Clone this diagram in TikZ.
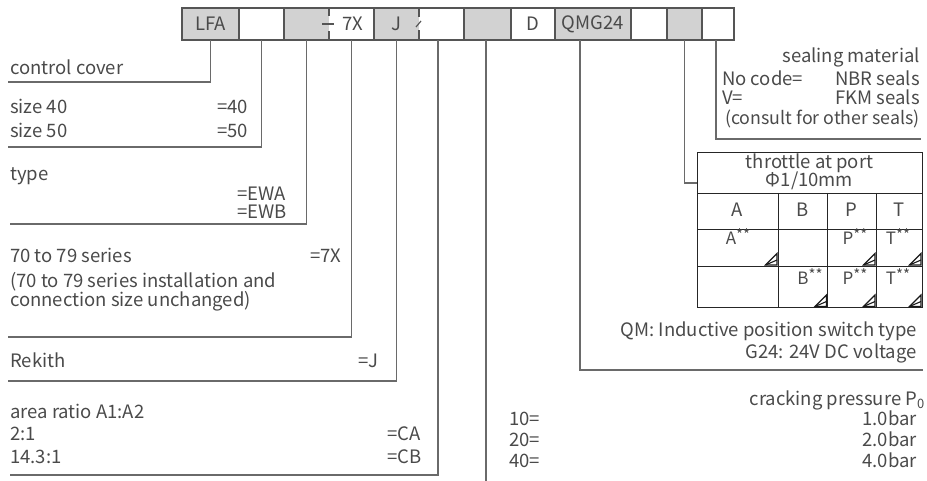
\documentclass[tikz,border=0pt]{standalone}
\usepackage{fontspec}
\setmainfont{Noto Sans CJK SC}
\usetikzlibrary{calc}
\definecolor{gbox}{HTML}{D2D2D2}
\definecolor{bline}{HTML}{555555}
\definecolor{cline}{HTML}{6A6A6A}
\definecolor{tc}{HTML}{4A4A4A}
\newcommand{\stars}{\raisebox{4pt}{\fontsize{15}{15}\selectfont **}}
\begin{document}
\begin{tikzpicture}[x=1pt,y=-1pt,
  txt/.style={font=\fontsize{18.5}{21}\selectfont, text=tc, inner sep=0pt},
  small/.style={font=\fontsize{17}{19}\selectfont, text=tc, inner sep=0pt},
  lw/.style={txt, anchor=base west},
  le/.style={txt, anchor=base east},
  lc/.style={txt, anchor=base},
  cellbox/.style={anchor=north west, minimum height=32pt, inner sep=0pt, outer sep=0pt, txt},
  boxline/.style={draw=bline, line width=1.2pt},
  conn/.style={draw=cline, line width=1.2pt},
  tabline/.style={draw=black!85, line width=0.9pt},
  thr/.style={draw=black!90, line width=1.1pt, line join=miter}
]
\useasboundingbox (0,0) rectangle (927,481);

% ---------- type code boxes ----------
\node[cellbox, fill=gbox,  minimum width=57pt] (b1)  at (182,8) {LFA};
\node[cellbox, fill=white, minimum width=45pt] (b2)  at (239,8) {};
\node[cellbox, fill=gbox,  minimum width=45pt] (b3)  at (284,8) {};
\node[cellbox, fill=white, minimum width=45pt] (b4)  at (329,8) {\hspace*{3pt}7X};
\node[cellbox, fill=gbox,  minimum width=45pt] (b5)  at (374,8) {J};
\node[cellbox, fill=white, minimum width=45pt] (b6)  at (419,8) {};
\node[cellbox, fill=gbox,  minimum width=47pt] (b7)  at (464,8) {};
\node[cellbox, fill=white, minimum width=44pt] (b8)  at (511,8) {D};
\node[cellbox, fill=gbox,  minimum width=76pt] (b9)  at (555,8) {QMG24};
\node[cellbox, fill=white, minimum width=36pt] (b10) at (631,8) {};
\node[cellbox, fill=gbox,  minimum width=35pt] (b11) at (667,8) {};
\node[cellbox, fill=white, minimum width=32pt] (b12) at (702,8) {};

\draw[boxline] (b1.north west) rectangle (b12.south east);
\foreach \n in {2,3,5,7,8,9,10,11,12}
  \draw[boxline] (b\n.north west) -- (b\n.south west);
% broken separators
\draw[boxline] (b4.north west) -- ++(0,8.5);
\draw[boxline] (b4.south west) -- ++(0,-8.5);
\draw[boxline] ($(b4.west)+(-7,0)$) -- ($(b4.west)+(5,0)$);
\draw[boxline] (b6.north west) -- ++(0,9);
\draw[boxline] (b6.south west) -- ++(0,-9.5);
\draw[boxline] ($(b6.west)+(-3,3)$) -- ($(b6.west)+(2,-3)$);

% ---------- connector end points ----------
\coordinate (s6) at (438,40);
\coordinate (s7) at (486,40);
\coordinate (s9) at (580,40);
\coordinate (s12) at (716,40);
\coordinate (e1) at (8,82);
\coordinate (e2) at (8,147);
\coordinate (e3) at (10,224);
\coordinate (e4) at (8,337);
\coordinate (e5) at (8,381);
\coordinate (e6) at (10,475);
\coordinate (e7) at (486,481);
\coordinate (e9) at (923,370);
\coordinate (e12) at (921,139);

\draw[conn] (b1.south) |- (e1);
\draw[conn] (b2.south) |- (e2);
\draw[conn] (b3.south) |- (e3);
\draw[conn] (b4.south) |- (e4);
\draw[conn] (b5.south) |- (e5);
\draw[conn] (s6) |- (e6);
\draw[conn] (s7) -- (e7);
\draw[conn] (s9) |- (e9);
\draw[conn] (s12) |- (e12);

% ---------- throttle table ----------
\node[anchor=north west, minimum width=225pt, minimum height=155pt, inner sep=0pt, outer sep=0pt] (tbl) at (697,152.5) {};
\draw[conn] (b11.south) |- (tbl.west |- 0,183);
\draw[tabline] (tbl.north west) rectangle (tbl.south east);
\draw[tabline] (697,193) -- (922,193);
\draw[tabline] (697,229.5) -- (922,229.5);
\draw[tabline] (697,266) -- (922,266);
\foreach \x in {778,827.5,876}
  \draw[tabline] (\x,193) -- (\x,307.5);

\node[lc] (th1) at (809.5,169) {throttle at port};
\node[lc] (th2) at (809.5,187) {Φ1/10mm};
\node[lc] (hA) at (737.5,217) {A};
\node[lc] (hB) at (802.75,217) {B};
\node[lc] (hP) at (851.75,217) {P};
\node[lc] (hT) at (899,217) {T};

\node[small, anchor=base] (r1a) at (738,245) {A\stars};
\node[small, anchor=base] (r1p) at (855,245) {P\stars};
\node[small, anchor=base] (r1t) at (898,245) {T\stars};
\node[small, anchor=base] (r2b) at (810,285) {B\stars};
\node[small, anchor=base] (r2p) at (855,285) {P\stars};
\node[small, anchor=base] (r2t) at (898,285) {T\stars};

\foreach \xr/\yb in {777/265, 875/265, 921/265, 826.5/306.5, 875/306.5, 921/306.5}{
  \draw[thr] (\xr-11.5,\yb) -- (\xr,\yb) -- (\xr,\yb-11.5) -- cycle;
  \draw[thr] (\xr-11.5,\yb) -- (\xr,\yb-5);
}

% ---------- left texts ----------
\node[lw] (t1) at (10,75) {control cover};
\node[lw] (t2a) at (10,114) {size 40};
\node[lw] (t2b) at (217,114) {=40};
\node[lw] (t2c) at (10,138) {size 50};
\node[lw] (t2d) at (217,138) {=50};
\node[lw] (t3a) at (10,181) {type};
\node[lw] (t3b) at (237,201) {=EWA};
\node[lw] (t3c) at (237,219) {=EWB};
\node[lw] (t4a) at (10,263) {70 to 79 series};
\node[lw] (t4b) at (310,263) {=7X};
\node[lw] (t4c) at (10,288) {(70 to 79 series installation and};
\node[lw] (t4d) at (10,307) {connection size unchanged)};
\node[lw] (t5a) at (10,367) {Rekith};
\node[lw] (t5b) at (358,367) {=J};
\node[lw] (t6a) at (10,418) {area ratio A1:A2};
\node[lw] (t6b) at (10,440) {2:1};
\node[lw] (t6c) at (387,440) {=CA};
\node[lw] (t6d) at (10,463) {14.3:1};
\node[lw] (t6e) at (387,463) {=CB};

% ---------- right texts ----------
\node[le] (s1) at (920,63) {sealing material};
\node[lw] (s2) at (722,86) {No code=};
\node[le] (s3) at (920,86) {NBR seals};
\node[lw] (s4) at (722,105) {V=};
\node[le] (s5) at (920,105) {FKM seals};
\node[le, font=\fontsize{17.8}{20}\selectfont] (s6t) at (920,125) {(consult for other seals)};

\node[le] (q1) at (917,336) {QM: Inductive position switch type};
\node[le] (q2) at (917,359) {G24: 24V DC voltage};

\node[le] (p0) at (925,405) {cracking pressure P\textsubscript{0}};
\node[lw] (p1) at (509,425) {10=};
\node[le] (p2) at (917,425) {1.0bar};
\node[lw] (p3) at (509,446) {20=};
\node[le] (p4) at (917,446) {2.0bar};
\node[lw] (p5) at (509,467) {40=};
\node[le] (p6) at (917,467) {4.0bar};
\end{tikzpicture}
\end{document}
